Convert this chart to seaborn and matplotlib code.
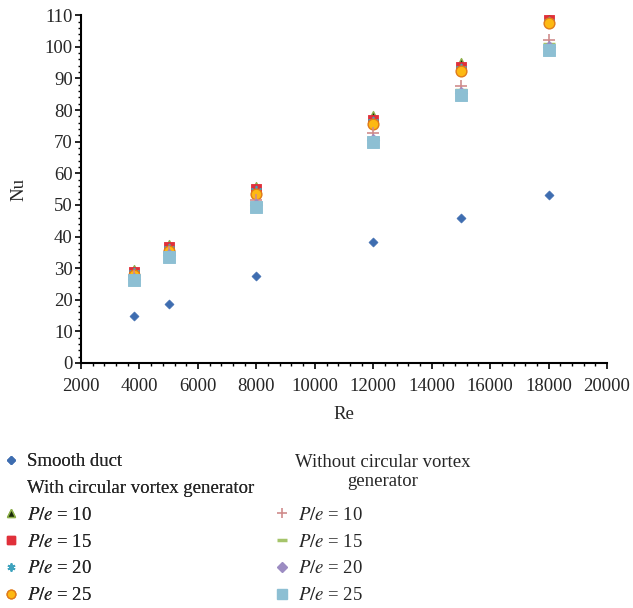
import matplotlib
matplotlib.use("Agg")
import matplotlib.pyplot as plt
from matplotlib.lines import Line2D
from matplotlib.ticker import MultipleLocator
import seaborn as sns
import pandas as pd

# Reynolds numbers tested
re_vals = [3800, 5000, 8000, 12000, 15000, 18000]

smooth = [15.0, 18.8, 27.5, 38.2, 45.8, 53.1]

# with circular vortex generator
with_10 = [29.4, 37.3, 55.6, 78.2, 94.8, 109.5]
with_15 = [28.9, 36.8, 55.0, 76.8, 93.6, 108.6]
with_20 = [28.4, 36.2, 54.4, 76.3, 93.0, 108.0]
with_25 = [27.8, 35.5, 53.6, 75.7, 92.3, 107.4]

# without circular vortex generator
wo_10 = [27.6, 35.2, 51.5, 72.6, 87.5, 102.0]
wo_15 = [27.0, 34.6, 50.6, 71.2, 86.3, 100.8]
wo_20 = [26.6, 34.0, 50.0, 70.6, 85.5, 99.8]
wo_25 = [26.2, 33.4, 49.4, 70.0, 84.7, 99.0]

sns.set_style("white")
plt.rcParams["font.family"] = ["Liberation Serif", "DejaVu Serif"]
plt.rcParams["mathtext.fontset"] = "stix"
fs = 13.5

fig = plt.figure(figsize=(6.33, 6.08), dpi=100)
ax = fig.add_axes([0.128, 0.403, 0.831, 0.572])

series = [
    (smooth, "Smooth duct", dict(marker="D", s=22, color="#3E6DB0", edgecolor="#3E6DB0")),
    (with_10, "$P/e$ = 10", dict(marker="^", s=50, color="#1a2a0a", edgecolor="#8DB04A", linewidth=1)),
    (with_15, "$P/e$ = 15", dict(marker="s", s=60, color="#E0303A", edgecolor="#E0303A")),
    (with_20, "$P/e$ = 20", dict(marker=(6, 2, 0), s=50, color="#3FA3BE", linewidth=1.2)),
    (with_25, "$P/e$ = 25", dict(marker="o", s=60, color="#FDB913", edgecolor="#E07B1A", linewidth=1)),
    (wo_10, "$P/e$ = 10", dict(marker="+", s=80, color="#D08C8C", linewidth=1.2)),
    (wo_15, "$P/e$ = 15", dict(marker="_", s=80, color="#A5C46A", linewidth=2.5)),
    (wo_20, "$P/e$ = 20", dict(marker="D", s=40, color="#9C8CC2", edgecolor="#9C8CC2")),
    (wo_25, "$P/e$ = 25", dict(marker="s", s=70, color="#8DBFD3", edgecolor="#8DBFD3")),
]

handles = []
for vals, label, kw in series:
    df = pd.DataFrame({"Re": re_vals, "Nu": vals})
    sns.scatterplot(data=df, x="Re", y="Nu", ax=ax, legend=False, zorder=3, **kw)
    mk = kw["marker"]
    handles.append(Line2D([], [], linestyle="none", marker=mk,
                          markersize=(kw["s"] ** 0.5) * 0.8,
                          markerfacecolor=kw["color"],
                          markeredgecolor=kw.get("edgecolor", kw["color"]),
                          markeredgewidth=kw.get("linewidth", 1),
                          color=kw["color"]))

ax.set_xlim(2000, 20000)
ax.set_ylim(0, 110)
ax.xaxis.set_major_locator(MultipleLocator(2000))
ax.xaxis.set_minor_locator(MultipleLocator(400))
ax.yaxis.set_major_locator(MultipleLocator(10))
ax.yaxis.set_minor_locator(MultipleLocator(2))
sns.despine(ax=ax)
for sp in ["left", "bottom"]:
    ax.spines[sp].set_color("black")
    ax.spines[sp].set_linewidth(1.5)
ax.tick_params(which="major", direction="out", length=4, width=1.2, color="black",
               labelsize=fs, left=True, bottom=True)
ax.tick_params(axis="x", which="major", pad=7)
ax.tick_params(axis="y", which="major", pad=2)
ax.tick_params(which="minor", direction="out", length=2.5, width=1, color="black",
               left=True, bottom=True)
ax.set_xlabel("Re", fontsize=fs, labelpad=8)
ax.set_ylabel("Nu", fontsize=fs, labelpad=12)

blank = Line2D([], [], linestyle="none")
left_h = [handles[0], blank] + handles[1:5]
left_l = ["Smooth duct", "With circular vortex generator"] + [s[1] for s in series[1:5]]
leg1 = fig.legend(left_h, left_l, loc="upper left", bbox_to_anchor=(-0.006, 0.267),
                  frameon=False, fontsize=fs, handlelength=0.8, handletextpad=0.45,
                  labelspacing=0.515, borderaxespad=0)
fig.add_artist(leg1)

right_h = handles[5:]
right_l = [s[1] for s in series[5:]]
leg2 = fig.legend(right_h, right_l, loc="upper left", bbox_to_anchor=(0.422, 0.179),
                  frameon=False, fontsize=fs, handlelength=0.8, handletextpad=0.45,
                  labelspacing=0.515, borderaxespad=0)

fig.text(383 / 633, 1 - 472 / 608, "Without circular vortex\ngenerator", fontsize=fs,
         ha="center", va="center", multialignment="center", linespacing=1.15)

fig.savefig("out.png", dpi=100)
